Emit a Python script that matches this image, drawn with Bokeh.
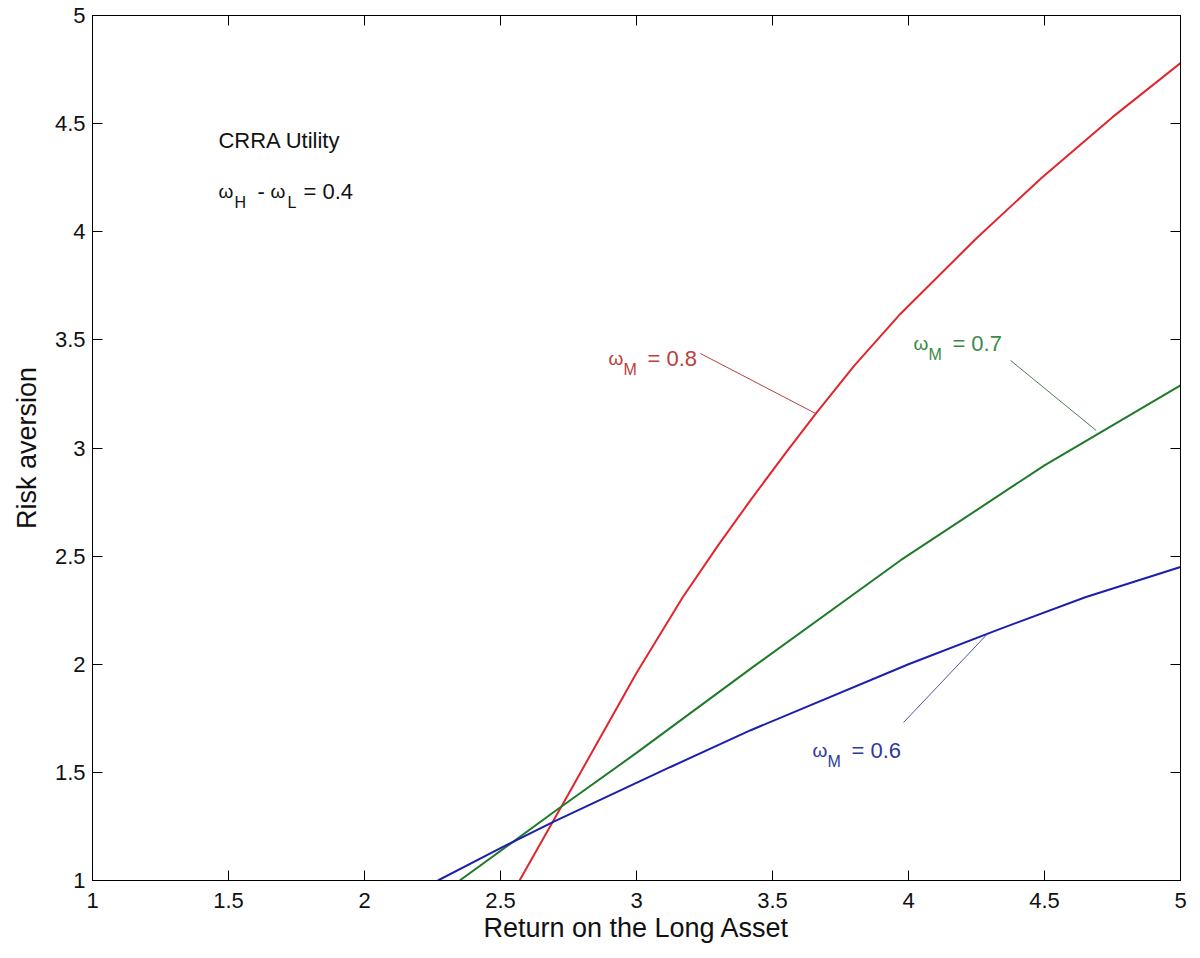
from bokeh.plotting import figure
from bokeh.models import Range1d, LinearAxis, FixedTicker, Label
from bokeh.embed import file_html
from bokeh.resources import INLINE

# ---------------- data ----------------
x_ticks = [1, 1.5, 2, 2.5, 3, 3.5, 4, 4.5, 5]
x_tick_labels = ["1", "1.5", "2", "2.5", "3", "3.5", "4", "4.5", "5"]
y_ticks = [1, 1.5, 2, 2.5, 3, 3.5, 4, 4.5, 5]
y_tick_labels = ["1", "1.5", "2", "2.5", "3", "3.5", "4", "4.5", "5"]

# omega_M = 0.8
red_x = [2.57, 2.75, 3.0, 3.17, 3.3, 3.42, 3.55, 3.66, 3.8, 3.97, 4.25, 4.49, 4.75, 5.0]
red_y = [1.0, 1.40, 1.96, 2.31, 2.55, 2.76, 2.98, 3.16, 3.38, 3.62, 3.97, 4.25, 4.53, 4.78]
# omega_M = 0.7
green_x = [2.35, 2.7, 3.0, 3.42, 3.97, 4.5, 5.0]
green_y = [1.0, 1.32, 1.59, 1.98, 2.48, 2.92, 3.29]
# omega_M = 0.6
blue_x = [2.27, 2.5, 2.7, 3.125, 3.42, 4.0, 4.33, 4.65, 5.0]
blue_y = [1.0, 1.15, 1.275, 1.525, 1.695, 2.0, 2.16, 2.31, 2.45]

# annotation pointer lines (label end -> curve)
red_ptr = [3.235, 3.437, 3.658, 3.16]
green_ptr = [4.375, 3.405, 4.69, 3.081]
blue_ptr = [3.982, 1.731, 4.29, 2.14]

RED, GREEN, BLUE = "#e0262c", "#1f7a2a", "#1c1fae"
RED_T, GREEN_T, BLUE_T = "#b8413c", "#3a8a48", "#2c3a9e"
FONT = "Liberation Sans"

p = figure(width=1190, height=950, x_range=Range1d(1, 5), y_range=Range1d(1, 5),
           output_backend="svg", toolbar_location=None,
           min_border_left=92, min_border_right=10, min_border_top=15, min_border_bottom=70)
p.grid.visible = False
p.outline_line_color = "black"
p.outline_line_width = 1
p.background_fill_color = "white"
p.border_fill_color = "white"

def style_axis(ax, ticks, labels, show_labels=True):
    ax.ticker = FixedTicker(ticks=ticks)
    ax.minor_tick_line_color = None
    ax.major_tick_in = 10
    ax.major_tick_out = 0
    ax.axis_line_color = "black"
    ax.major_tick_line_color = "black"
    ax.major_label_text_font = FONT
    ax.major_label_text_font_size = "22px"
    ax.major_label_text_color = "#111111"
    ax.axis_label_text_font = FONT
    ax.axis_label_text_font_size = "27px"
    ax.axis_label_text_font_style = "normal"
    ax.axis_label_text_color = "#111111"
    if show_labels:
        ax.major_label_overrides = {t: s for t, s in zip(ticks, labels)}
    else:
        ax.major_label_overrides = {t: "" for t in ticks}
        ax.major_label_standoff = 0

style_axis(p.xaxis[0], x_ticks, x_tick_labels)
style_axis(p.yaxis[0], y_ticks, y_tick_labels)
p.xaxis[0].axis_label = "Return on the Long Asset"
p.yaxis[0].axis_label = "Risk aversion"
p.xaxis[0].major_label_standoff = 12
p.yaxis[0].major_label_standoff = 7
p.xaxis[0].axis_label_standoff = 2
p.yaxis[0].axis_label_standoff = 10

top = LinearAxis()
style_axis(top, x_ticks, x_tick_labels, show_labels=False)
p.add_layout(top, "above")
right = LinearAxis()
style_axis(right, y_ticks, y_tick_labels, show_labels=False)
p.add_layout(right, "right")

p.line(red_x, red_y, line_color=RED, line_width=2)
p.line(green_x, green_y, line_color=GREEN, line_width=2)
p.line(blue_x, blue_y, line_color=BLUE, line_width=2)

p.segment(x0=[red_ptr[0]], y0=[red_ptr[1]], x1=[red_ptr[2]], y1=[red_ptr[3]], line_color=RED_T, line_width=1)
p.segment(x0=[green_ptr[0]], y0=[green_ptr[1]], x1=[green_ptr[2]], y1=[green_ptr[3]], line_color="#4f7a55", line_width=1)
p.segment(x0=[blue_ptr[0]], y0=[blue_ptr[1]], x1=[blue_ptr[2]], y1=[blue_ptr[3]], line_color="#4a55a8", line_width=1)

def txt(x, y, s, size, color, xo=0, yo=0):
    p.add_layout(Label(x=x, y=y, x_offset=xo, y_offset=yo, text=s,
                       text_font=FONT, text_font_size=size, text_color=color,
                       text_align="left", text_baseline="alphabetic"))

def omega_label(x, y, val, color):
    txt(x, y, "\u03c9", "19px", color)
    txt(x, y, "M", "16px", color, xo=15, yo=-11)
    txt(x, y, "= " + val, "22px", color, xo=39)

omega_label(2.897, 3.414, "0.8", RED_T)
omega_label(4.018, 3.483, "0.7", GREEN_T)
omega_label(3.647, 1.601, "0.6", BLUE_T)

# CRRA text block
cx, cy = 1.463, 4.422
txt(cx, cy, "CRRA Utility", "22px", "#111111")
txt(cx, cy, "\u03c9", "19px", "#111111", xo=0, yo=-51)
txt(cx, cy, "H", "16px", "#111111", xo=16, yo=-62)
txt(cx, cy, "-", "22px", "#111111", xo=39, yo=-51)
txt(cx, cy, "\u03c9", "19px", "#111111", xo=52, yo=-51)
txt(cx, cy, "L", "16px", "#111111", xo=69, yo=-62)
txt(cx, cy, "= 0.4", "22px", "#111111", xo=85, yo=-51)

open("out.html", "w").write(file_html(p, INLINE))
